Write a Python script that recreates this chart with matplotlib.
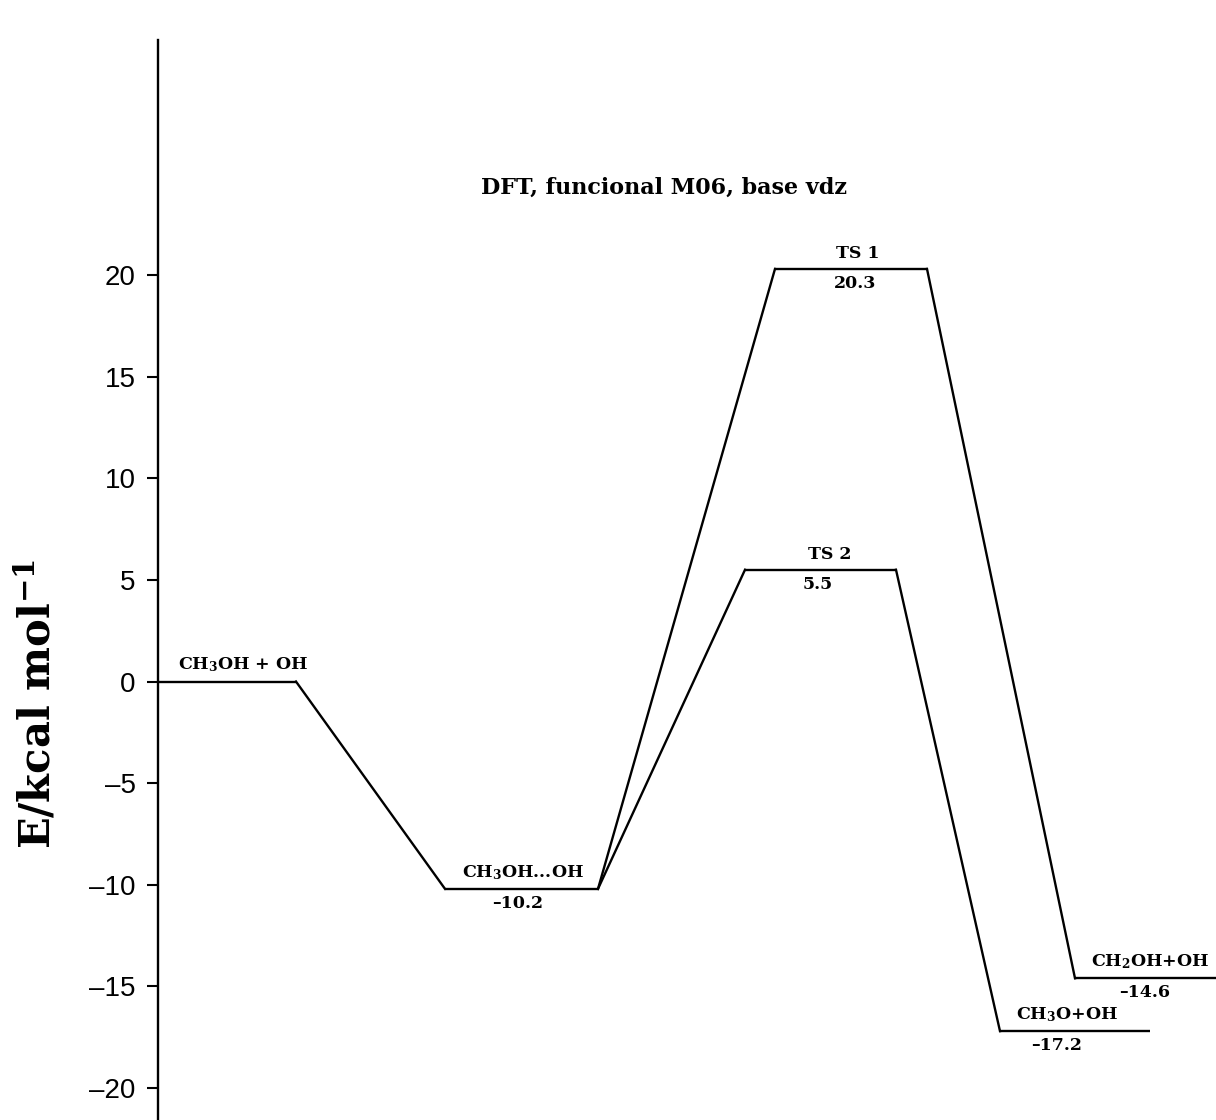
import matplotlib
matplotlib.use("Agg")
import matplotlib.pyplot as plt

plt.rcParams['mathtext.fontset'] = 'custom'
plt.rcParams['mathtext.rm'] = 'DejaVu Serif:bold'
plt.rcParams['mathtext.bf'] = 'DejaVu Serif:bold'
plt.rcParams['mathtext.default'] = 'rm'

# Stationary points on the potential energy surface (kcal/mol)
species = ["CH$_3$OH + OH", "CH$_3$OH...OH", "TS 1", "TS 2", "CH$_3$O+OH", "CH$_2$OH+OH"]
energies = [0.0, -10.2, 20.3, 5.5, -17.2, -14.6]
show_value = [False, True, True, True, True, True]
yticks = [-20, -15, -10, -5, 0, 5, 10, 15, 20]

# Horizontal extent of each level along the reaction coordinate
level_x = [(0.00, 1.38), (2.87, 4.40), (6.17, 7.69), (5.87, 7.38), (8.42, 9.92), (9.17, 10.58)]
# Horizontal centres of name / value labels
name_x = [0.85, 3.65, 7.00, 6.72, 9.09, 9.92]
value_x = [None, 3.60, 6.97, 6.60, 8.99, 9.87]
# Pathways joining levels (index pairs)
paths = [(0, 1), (1, 2), (1, 3), (2, 5), (3, 4)]

fig = plt.figure(figsize=(12.16, 11.2), dpi=100)
ax = fig.add_axes([158 / 1216, 0.0, 1 - 158 / 1216, 1 - 40 / 1120])

lw = 1.7
for (x0, x1), e in zip(level_x, energies):
    ax.plot([x0, x1], [e, e], color='black', lw=lw, solid_capstyle='butt')
for a, b in paths:
    ax.plot([level_x[a][1], level_x[b][0]], [energies[a], energies[b]],
            color='black', lw=lw, solid_joinstyle='miter')

label_font = dict(family='DejaVu Serif', weight='bold', fontsize=12.5)
for i, (name, e) in enumerate(zip(species, energies)):
    ax.text(name_x[i], e + 0.35, name, ha='center', va='bottom', **label_font)
    if show_value[i]:
        ax.text(value_x[i], e - 0.3, f"{e:.1f}".replace('-', '–'),
                ha='center', va='top', **label_font)

ax.text(5.06, 24.3, "DFT, funcional M06, base vdz", ha='center', va='center',
        family='DejaVu Serif', weight='bold', fontsize=16)

ax.set_xlim(0, 10.58)
ax.set_ylim(-21.57, 31.56)
ax.set_yticks(yticks)
ax.set_yticklabels([str(t).replace('-', '–') for t in yticks],
                   family='Liberation Sans', fontsize=20)
ax.tick_params(axis='y', direction='out', length=8, width=1.5, pad=8)
ax.set_xticks([])
for s in ('top', 'right', 'bottom'):
    ax.spines[s].set_visible(False)
ax.spines['left'].set_linewidth(1.7)

ax.set_ylabel(r"E/kcal mol$^{-1}$", family='DejaVu Serif', weight='bold',
              fontsize=30)
ax.yaxis.set_label_coords(-0.093, 0.385)

fig.savefig("out.png", dpi=100)
